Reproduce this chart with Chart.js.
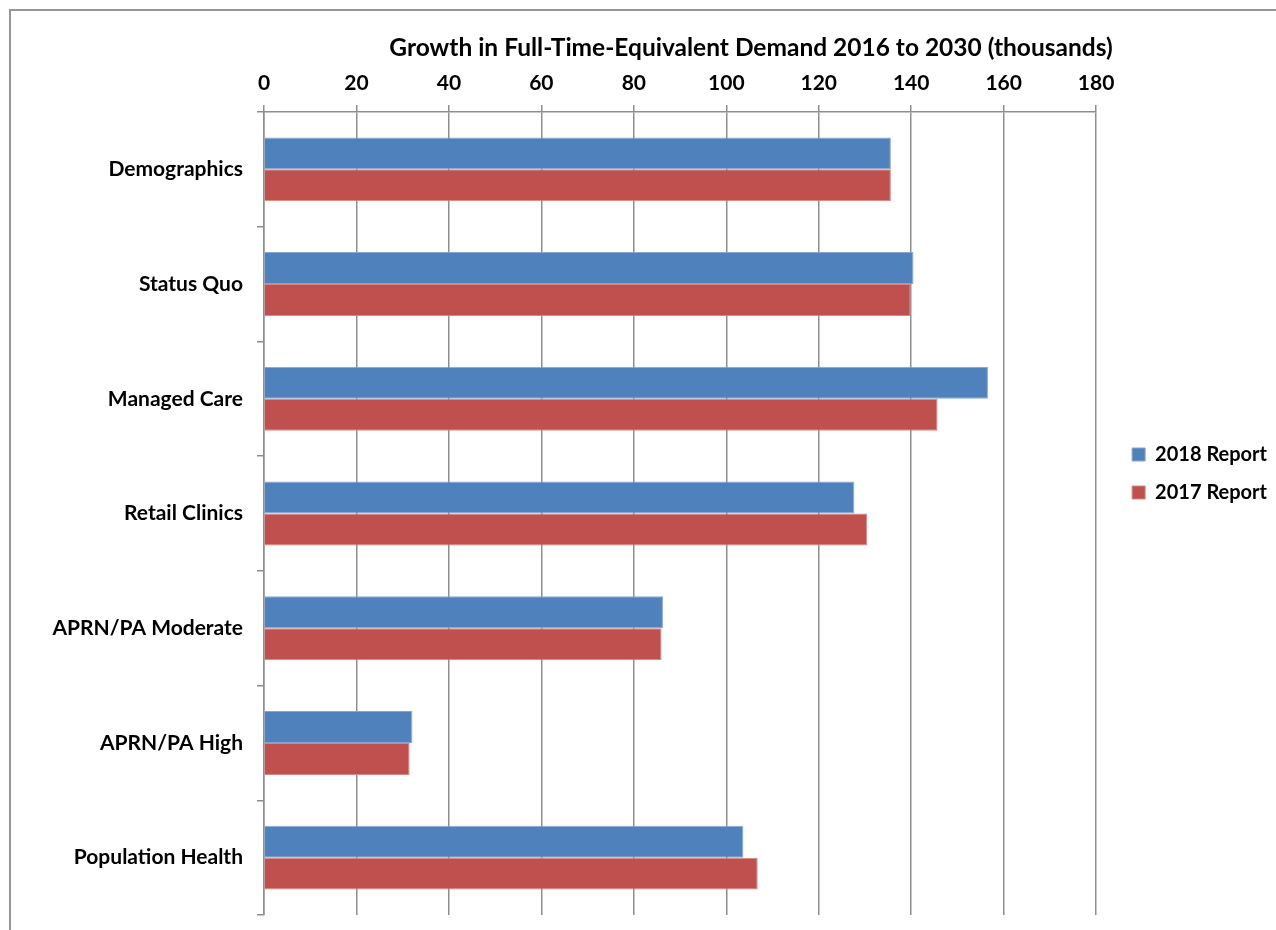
<!doctype html>
<html lang="en">
  <head>
    <meta charset="utf-8">
    <title>FTE Demand Growth</title>
    <script src="https://cdn.jsdelivr.net/npm/chart.js@4/dist/chart.umd.min.js"></script>
    <style>
      html, body { margin: 0; padding: 0; background: #fff; overflow: hidden; }
      #wrap { position: relative; width: 1276px; height: 930px; }
      #wrap canvas { display: block; }
      #frame {
        position: absolute; left: 9px; top: 9px; width: 1300px; height: 960px;
        border-top: 2px solid #979797; border-left: 2px solid #979797;
        pointer-events: none;
      }
      #title {
        position: absolute; left: 751px; top: 32px; transform: translateX(-50%);
        white-space: nowrap; font: bold 24.5px Lato, sans-serif; color: #000;
      }
    </style>
  </head>
  <body>
    <div id="wrap">
      <div id="frame"></div>
      <div id="title">Growth in Full-Time-Equivalent Demand 2016 to 2030 (thousands)</div>
      <canvas id="myChart"></canvas>
    </div>
    <script>
      const scenarios = [
        'Demographics',
        'Status Quo',
        'Managed Care',
        'Retail Clinics',
        'APRN/PA Moderate',
        'APRN/PA High',
        'Population Health'
      ];
      const report2018 = [135.6, 140.5, 156.6, 127.7, 86.3, 32.1, 103.7];
      const report2017 = [135.6, 139.9, 145.7, 130.5, 86.0, 31.5, 106.8];
      const axisMin = 0;
      const axisMax = 180;
      const axisStep = 20;

      const gridGray = '#8e8e8e';
      const labelFont = { family: 'Lato', size: 21, weight: 'bold' };

      // push the legend a little right and down of where Chart.js puts it
      const legendNudge = {
        id: 'legendNudge',
        afterLayout(chart) {
          const lg = chart.legend;
          lg.left += 18; lg.right += 18;
          lg.top += 16; lg.bottom += 16;
        }
      };

      new Chart(document.getElementById('myChart'), {
        type: 'bar',
        data: {
          labels: scenarios,
          datasets: [
            {
              label: '2018 Report',
              data: report2018,
              backgroundColor: '#4f81bd',
              borderColor: '#86a6d2',
              borderWidth: 1
            },
            {
              label: '2017 Report',
              data: report2017,
              backgroundColor: '#c0504d',
              borderColor: '#d68583',
              borderWidth: 1
            }
          ]
        },
        plugins: [legendNudge],
        options: {
          indexAxis: 'y',
          responsive: true,
          maintainAspectRatio: false,
          animation: false,
          categoryPercentage: 0.557,
          barPercentage: 1,
          layout: { padding: { top: 0, left: 0, right: 17, bottom: 15 } },
          plugins: {
            title: { display: false },
            tooltip: { enabled: false },
            legend: {
              position: 'right',
              labels: {
                boxWidth: 13,
                boxHeight: 13,
                padding: 18,
                color: '#000',
                font: { family: 'Lato', size: 20, weight: 'bold' }
              }
            }
          },
          scales: {
            x: {
              position: 'top',
              min: axisMin,
              max: axisMax,
              ticks: {
                stepSize: axisStep,
                color: '#000',
                padding: 9,
                font: { family: 'Lato', size: 21, weight: 'bold' }
              },
              grid: { color: gridGray, lineWidth: 1.5, tickLength: 7 },
              border: { color: gridGray, width: 1.5 },
              afterFit: (scale) => { scale.height = 112; }
            },
            y: {
              ticks: { color: '#000', padding: 14, font: labelFont },
              grid: {
                drawOnChartArea: false,
                offset: true,
                color: gridGray,
                lineWidth: 1.5,
                tickLength: 7
              },
              border: { color: gridGray, width: 1.5 },
              afterFit: (scale) => {
                scale.width = 264;
                // labels sit mid-band, so no end padding is needed
                scale.paddingTop = 0;
                scale.paddingBottom = 0;
              }
            }
          }
        }
      });
    </script>
  </body>
</html>
